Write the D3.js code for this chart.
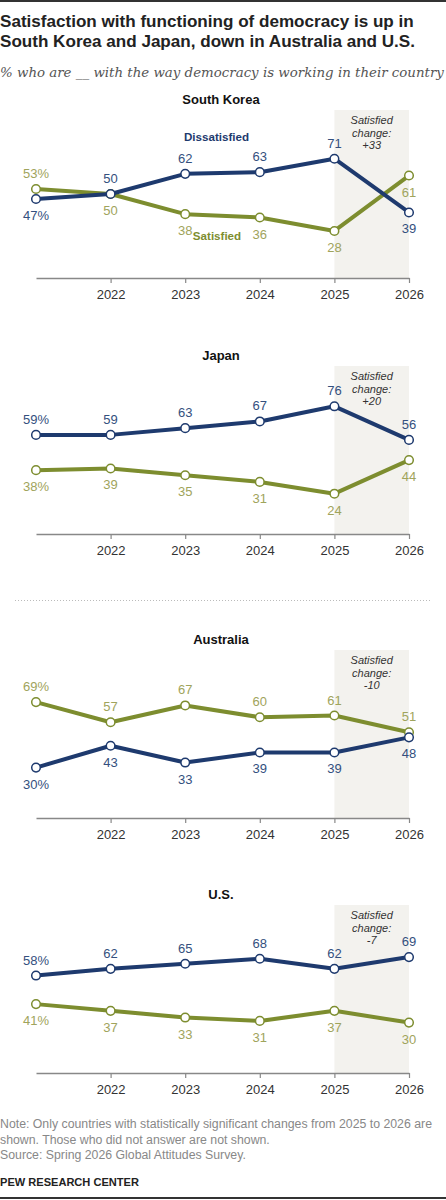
<!DOCTYPE html>
<html>
<head>
<meta charset="utf-8">
<script src="https://cdn.jsdelivr.net/npm/d3@7"></script>
<style>
  body { margin: 0; background: #fff; }
  svg { display: block; font-family: "Liberation Sans", Arial, sans-serif; }
</style>
</head>
<body>
<div id="chart"></div>
<script>
// values
const years = [2021, 2022, 2023, 2024, 2025, 2026];
const tickYears = [2022, 2023, 2024, 2025, 2026];
const countries = ["South Korea", "Japan", "Australia", "U.S."];

const skDissatisfied = [47, 50, 62, 63, 71, 39];
const skSatisfied    = [53, 50, 38, 36, 28, 61];
const jpDissatisfied = [59, 59, 63, 67, 76, 56];
const jpSatisfied    = [38, 39, 35, 31, 24, 44];
const auDissatisfied = [30, 43, 33, 39, 39, 48];
const auSatisfied    = [69, 57, 67, 60, 61, 51];
const usDissatisfied = [58, 62, 65, 68, 62, 69];
const usSatisfied    = [41, 37, 33, 31, 37, 30];

const satisfiedChange = ["+33", "+20", "-10", "-7"];

(function () {
    const width = 446;
    const height = 1200;

    const navy = "#1e3a6e";
    const olive = "#7d8d2f";
    const navyLabel = "#34507e";
    const oliveLabel = "#9fa45c";

    const panelTops = [110, 366, 650, 905];
    const panelH = 168;

    const dis = [skDissatisfied, jpDissatisfied, auDissatisfied, usDissatisfied];
    const sat = [skSatisfied, jpSatisfied, auSatisfied, usSatisfied];

    const svg = d3.select("#chart").append("svg")
        .attr("width", width)
        .attr("height", height)
        .attr("viewBox", [0, 0, width, height]);

    // scale a text's font so it fills the given width
    function fit(sel, target) {
        const fs = parseFloat(sel.style("font-size"));
        const w = sel.node().getComputedTextLength();
        sel.style("font-size", (fs * target / w).toFixed(2) + "px");
    }

    // top/bottom rules
    svg.append("rect").attr("x", 0).attr("y", 0).attr("width", width).attr("height", 2).attr("fill", "#333");
    svg.append("rect").attr("x", 0).attr("y", 1197).attr("width", width).attr("height", 2).attr("fill", "#333");

    // Title
    const t1 = svg.append("text").attr("x", 0).attr("y", 27)
        .style("font-size", "18px").style("font-weight", "bold").style("fill", "#222")
        .text("Satisfaction with functioning of democracy is up in");
    fit(t1, 414);
    svg.append("text").attr("x", 0).attr("y", 47)
        .style("font-size", t1.style("font-size")).style("font-weight", "bold").style("fill", "#222")
        .text("South Korea and Japan, down in Australia and U.S.");

    const sub = svg.append("text").attr("x", 0).attr("y", 77)
        .style("font-family", "'DejaVu Serif', Georgia, serif")
        .style("font-style", "italic")
        .style("font-size", "15px").style("fill", "#555")
        .text("% who are __ with the way democracy is working in their country");
    fit(sub, 444);

    const x = d3.scaleLinear()
        .domain(d3.extent(years))
        .range([36, 409]);

    // dotted separator between Japan and Australia
    svg.append("line")
        .attr("x1", 15).attr("x2", 432)
        .attr("y1", 600.5).attr("y2", 600.5)
        .attr("stroke", "#bbb")
        .attr("stroke-dasharray", "1,2");

    countries.forEach((country, i) => {
        const top = panelTops[i];
        const y = d3.scaleLinear().domain([0, 100]).range([top + panelH, top]);
        const g = svg.append("g");

        // shaded 2025-2026 band
        g.append("rect")
            .attr("x", x(2025))
            .attr("y", y(100))
            .attr("width", x(2026) - x(2025))
            .attr("height", y(0) - y(100))
            .attr("fill", "#f3f2ee");

        g.append("text")
            .attr("x", 221)
            .attr("y", top - 6)
            .attr("text-anchor", "middle")
            .style("font-size", "13px")
            .style("font-weight", "bold")
            .style("fill", "#111")
            .text(country);

        // change note
        const note = g.append("text")
            .attr("text-anchor", "middle")
            .style("font-size", "11px")
            .style("font-style", "italic")
            .style("fill", "#333");
        ["Satisfied", "change:", satisfiedChange[i]].forEach((s, k) => {
            note.append("tspan")
                .attr("x", (x(2025) + x(2026)) / 2)
                .attr("y", top + 14 + k * 12.5)
                .text(s);
        });

        // axis
        const axis = g.append("g")
            .attr("transform", `translate(0,${y(0)})`)
            .call(d3.axisBottom(x).tickValues(tickYears).tickFormat(d3.format("d")).tickSize(5).tickSizeOuter(0));
        axis.select(".domain").attr("stroke", "#888").attr("stroke-width", 1.3);
        axis.selectAll(".tick line").attr("stroke", "#888").attr("stroke-width", 1.2);
        axis.selectAll(".tick text")
            .attr("y", 12)
            .style("font-family", "'Liberation Sans', Arial, sans-serif")
            .style("font-size", "13px")
            .style("fill", "#333");

        const line = d3.line().x((d, j) => x(years[j])).y(d => y(d));

        const series = [
            { values: sat[i], other: dis[i], stroke: olive, label: oliveLabel, name: "Satisfied" },
            { values: dis[i], other: sat[i], stroke: navy, label: navyLabel, name: "Dissatisfied" }
        ];

        series.forEach(s => {
            g.append("path")
                .datum(s.values)
                .attr("d", line)
                .attr("fill", "none")
                .attr("stroke", s.stroke)
                .attr("stroke-width", 4)
                .attr("stroke-linejoin", "round");

            g.selectAll(null)
                .data(s.values)
                .join("circle")
                .attr("cx", (d, j) => x(years[j]))
                .attr("cy", d => y(d))
                .attr("r", 4.3)
                .attr("fill", "#fff")
                .attr("stroke", s.stroke)
                .attr("stroke-width", 1.5);

            g.selectAll(null)
                .data(s.values)
                .join("text")
                .attr("x", (d, j) => x(years[j]))
                .attr("y", (d, j) => {
                    let above = d > s.other[j] || (d === s.other[j] && s.name === "Dissatisfied");
                    // South Korea 2026 satisfied label sits under its point
                    if (i === 0 && j === years.length - 1) above = false;
                    return above ? y(d) - 11 : y(d) + 21;
                })
                .attr("text-anchor", "middle")
                .style("font-size", "13px")
                .style("fill", s.label)
                .text((d, j) => j === 0 ? d + "%" : d);
        });

        // inline series names (first panel only)
        if (i === 0) {
            const dn = g.append("text")
                .attr("x", 216.5).attr("y", y(81.5))
                .attr("text-anchor", "middle")
                .style("font-size", "13px").style("font-weight", "bold")
                .style("fill", navy)
                .text("Dissatisfied");
            fit(dn, 65);
            const sn = g.append("text")
                .attr("x", 217).attr("y", y(22.5))
                .attr("text-anchor", "middle")
                .style("font-size", dn.style("font-size")).style("font-weight", "bold")
                .style("fill", olive)
                .text("Satisfied");
        }
    });

    // footnote
    const n1 = svg.append("text").attr("x", 0).attr("y", 1128)
        .style("font-size", "12px").style("fill", "#888")
        .text("Note: Only countries with statistically significant changes from 2025 to 2026 are");
    fit(n1, 432);
    const fs = n1.style("font-size");
    svg.append("text").attr("x", 0).attr("y", 1143.5)
        .style("font-size", fs).style("fill", "#888")
        .text("shown. Those who did not answer are not shown.");
    svg.append("text").attr("x", 0).attr("y", 1159)
        .style("font-size", fs).style("fill", "#888")
        .text("Source: Spring 2026 Global Attitudes Survey.");

    const pew = svg.append("text").attr("x", 0).attr("y", 1186)
        .style("font-size", "13px").style("font-weight", "bold").style("fill", "#222")
        .text("PEW RESEARCH CENTER");
    fit(pew, 139);
})();
</script>
</body>
</html>
